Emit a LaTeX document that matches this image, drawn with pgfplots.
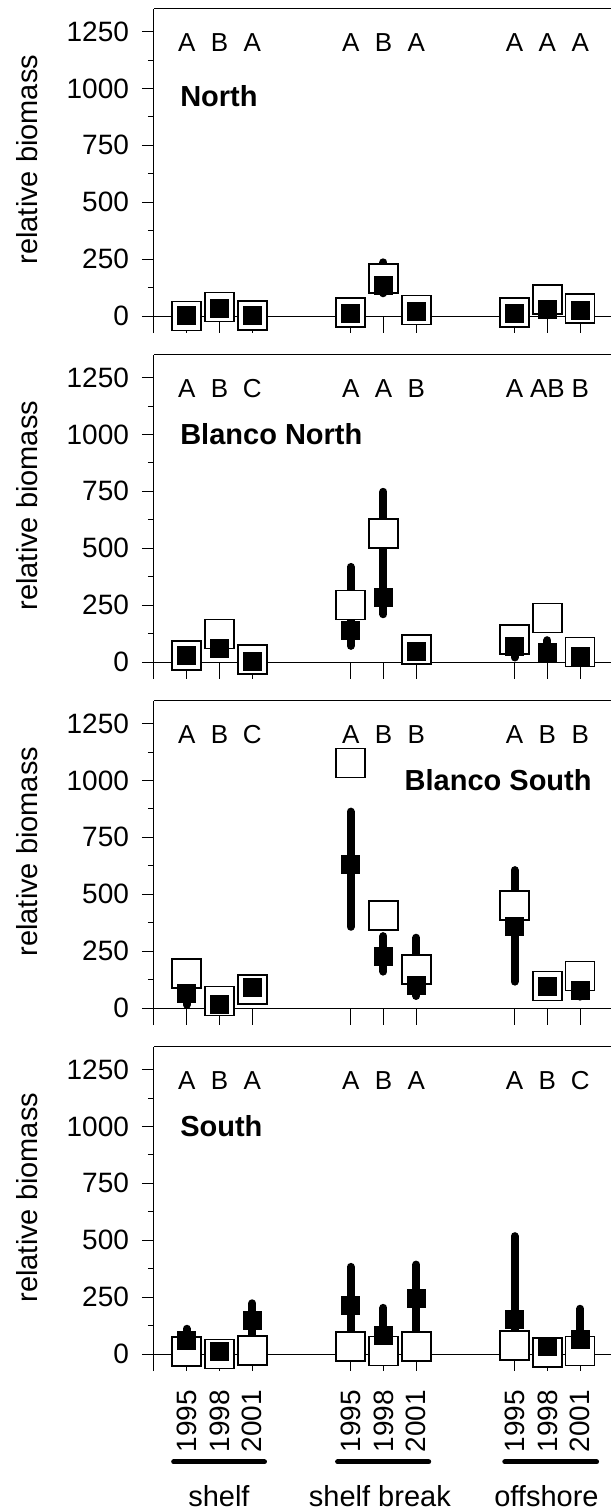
\documentclass[border=0pt]{standalone}
\usepackage{fontspec}
\setmainfont{Liberation Sans}
\usepackage{pgfplots}
\usepackage{pgfplotstable}
\pgfplotsset{compat=1.18}

% x: 1-3 shelf, 6-8 shelf break, 11-13 offshore (1995,1998,2001)
% w = open square, b = filled square, lo/hi = thick bar ends
\pgfplotstableread{
x  w    b    lo   hi
1  0    2    2    2
2  40   35   35   35
3  3    4    4    4
6  15   12   12   12
7  166  136  100  236
8  26   22   22   22
11 15   12   12   12
12 73   31   8    60
13 32   26   26   26
}\north
\pgfplotstableread{
x  w    b    lo   hi
1  29   29   29   29
2  124  60   60   60
3  10   3    3    3
6  251  141  71   418
7  566  285  210  748
8  54   47   47   47
11 98   69   20   100
12 193  44   30   96
13 44   25   25   25
}\blanconorth
\pgfplotstableread{
x  w    b    lo   hi
1  153  63   14   100
2  31   15   15   15
3  82   92   40   92
6  1077 631  357  863
7  406  226  160  316
8  169  98   53   309
11 450  359  116  606
12 96   95   95   95
13 140  77   50   100
}\blancosouth
\pgfplotstableread{
x  w    b    lo   hi
1  12   58   30   111
2  1    13   13   13
3  16   148  80   223
6  33   213  60   383
7  14   80   50   203
8  33   246  60   393
11 37   151  60   518
12 8    33   33   33
13 14   63   40   199
}\south

\newcommand\letters[9]{%
  \node[font=\fontsize{13}{15}\selectfont] at (axis cs:1,1200) {#1};
  \node[font=\fontsize{13}{15}\selectfont] at (axis cs:2,1200) {#2};
  \node[font=\fontsize{13}{15}\selectfont] at (axis cs:3,1200) {#3};
  \node[font=\fontsize{13}{15}\selectfont] at (axis cs:6,1200) {#4};
  \node[font=\fontsize{13}{15}\selectfont] at (axis cs:7,1200) {#5};
  \node[font=\fontsize{13}{15}\selectfont] at (axis cs:8,1200) {#6};
  \node[font=\fontsize{13}{15}\selectfont] at (axis cs:11,1200) {#7};
  \node[font=\fontsize{13}{15}\selectfont] at (axis cs:12,1200) {#8};
  \node[font=\fontsize{13}{15}\selectfont] at (axis cs:13,1200) {#9};
}

\newcommand\panelplots[1]{%
  \addplot[ycomb, black, line width=0.5pt, mark=none] coordinates {
    (1,-75) (2,-75) (3,-75) (6,-75) (7,-75) (8,-75) (11,-75) (12,-75) (13,-75)};
  \addplot[black, line width=0.5pt, mark=none] coordinates {(0,0) (13.94,0)};
  \addplot[only marks, mark=none,
    error bars/.cd, y dir=both, y explicit, error mark=none,
    error bar style={line width=4pt, line cap=round, black, solid}]
    table[x=x, y=b, y error plus expr=\thisrow{hi}-\thisrow{b},
          y error minus expr=\thisrow{b}-\thisrow{lo}] {#1};
  \addplot[only marks, mark=square*, mark size=7.25pt,
    mark options={fill=white, draw=black, line width=0.8pt}]
    table[x=x, y=w] {#1};
  \addplot[only marks, mark=square*, mark size=4.5pt,
    mark options={fill=black, draw=black}]
    table[x=x, y=b] {#1};
  \draw[black, line width=0.5pt] (rel axis cs:0,1) -- (rel axis cs:1,1);
}

\pgfplotsset{
  panel/.style={
    scale only axis, width=228.5pt, height=162.15pt,
    xmin=0, xmax=13.94, ymin=-75, ymax=1350,
    axis y line=left, axis x line=bottom,
    x axis line style={draw=none},
    y axis line style={-, line width=0.5pt},
    xtick={1,2,3,6,7,8,11,12,13}, xticklabels={},
    xtick style={draw=none},
    ytick={0,250,...,1250}, minor y tick num=1,
    tick align=outside, major tick length=6pt, minor tick length=3pt,
    ytick style={black, line width=0.5pt},
    scaled y ticks=false,
    /pgf/number format/1000 sep={},
    /pgf/number format/assume math mode=true,
    yticklabel style={font=\fontsize{14}{16}\selectfont, xshift=-3pt},
    ylabel={relative biomass},
    every axis y label/.style={at={(axis description cs:-0.278,0.535)},
      rotate=90, anchor=center, font=\fontsize{14.5}{17}\selectfont},
    clip=false,
  },
}

\begin{document}
\begin{tikzpicture}
\begin{axis}[panel, at={(0pt,0pt)}]
\panelplots{\north}
\letters{A}{B}{A}{A}{B}{A}{A}{A}{A}
\node[anchor=west, inner sep=0pt, font=\bfseries\fontsize{14.5}{17}\selectfont] at (axis cs:0.79,967) {North};
\end{axis}

\begin{axis}[panel, at={(0pt,-173pt)}]
\panelplots{\blanconorth}
\letters{A}{B}{C}{A}{A}{B}{A}{AB}{B}
\node[anchor=west, inner sep=0pt, font=\bfseries\fontsize{14.5}{17}\selectfont] at (axis cs:0.79,1000) {Blanco North};
\end{axis}

\begin{axis}[panel, at={(0pt,-346pt)}]
\panelplots{\blancosouth}
\letters{A}{B}{C}{A}{B}{B}{A}{B}{B}
\node[anchor=east, inner sep=0pt, font=\bfseries\fontsize{14.5}{17}\selectfont] at (axis cs:13.36,1000) {Blanco South};
\end{axis}

\begin{axis}[panel, at={(0pt,-519pt)},
  xticklabels={1995,1998,2001,1995,1998,2001,1995,1998,2001},
  xticklabel style={rotate=90, anchor=east, font=\fontsize{14}{16}\selectfont}]
\panelplots{\south}
\letters{A}{B}{A}{A}{B}{A}{A}{B}{C}
\node[anchor=west, inner sep=0pt, font=\bfseries\fontsize{14.5}{17}\selectfont] at (axis cs:0.79,1002) {South};
\draw[line width=2.5pt, line cap=round] (axis cs:0.6,-474) -- (axis cs:3.37,-474);
\draw[line width=2.5pt, line cap=round] (axis cs:5.6,-474) -- (axis cs:8.38,-474);
\draw[line width=2.5pt, line cap=round] (axis cs:10.7,-474) -- (axis cs:13.5,-474);
\node[anchor=base, font=\fontsize{14.5}{17}\selectfont] at (axis cs:1.98,-668) {shelf};
\node[anchor=base, font=\fontsize{14.5}{17}\selectfont] at (axis cs:6.89,-668) {shelf break};
\node[anchor=base, font=\fontsize{14.5}{17}\selectfont] at (axis cs:11.97,-668) {offshore};
\end{axis}
\pgfresetboundingbox
\path[use as bounding box] (-77pt,-589.45pt) rectangle (228.5pt,166.55pt);
\end{tikzpicture}
\end{document}
